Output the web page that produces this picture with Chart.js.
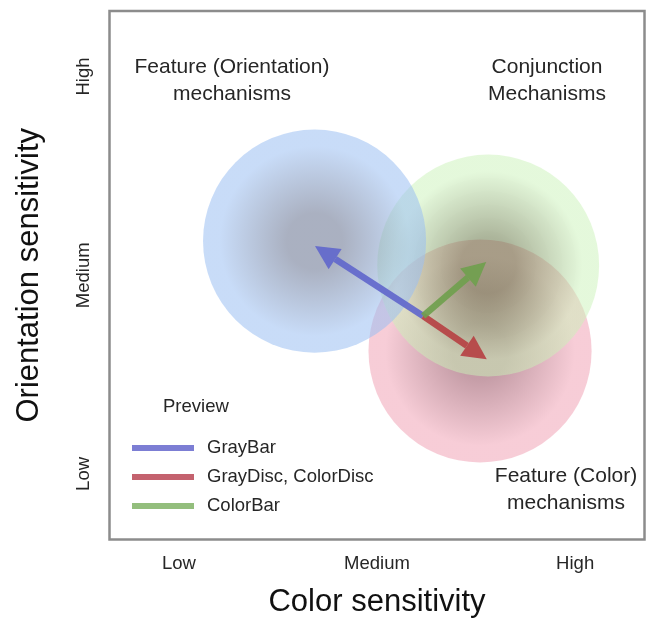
<!DOCTYPE html>
<html>
<head>
<meta charset="utf-8">
<script src="https://cdn.jsdelivr.net/npm/chart.js@4.4.0/dist/chart.umd.min.js"></script>
<style>
  html, body { margin: 0; padding: 0; background: #fff; }
</style>
</head>
<body>
<canvas id="mechChart" width="647" height="621"></canvas>
<script>
// sensitivity levels, same on both axes
const levelValues = [1, 2, 3];
const colorLevels = ['Low', 'Medium', 'High'];
const orientLevels = ['Low', 'Medium', 'High'];

// mechanism regions (colour, conjunction, orientation): centre and radius in axis units
const regionX = [2.520, 2.561, 1.685];
const regionY = [1.619, 2.049, 2.172];
const regionR = [0.563, 0.560, 0.563];

// preview shifts, all starting at the same point
const arrowLabels = ['GrayBar', 'GrayDisc, ColorDisc', 'ColorBar'];
const arrowStartX = 2.233;
const arrowStartY = 1.795;
const arrowEndX = [1.687, 2.554, 2.551];
const arrowEndY = [2.147, 1.577, 2.067];

// region captions (block centre in axis units)
const captionText = [
    ['Feature (Orientation)', 'mechanisms'],
    ['Conjunction', 'Mechanisms'],
    ['Feature (Color)', 'mechanisms']
];
const captionX = [1.268, 2.858, 2.954];
const captionY = [2.977, 2.977, 0.922];

// styles
const FONT = "'Liberation Sans', Arial, Helvetica, sans-serif";
const TEXT = '#262626';
const regionInner = ['rgba(140,60,80,0.5)', 'rgba(95,112,62,0.52)', 'rgba(100,112,142,0.55)'];
const regionOuter = ['rgba(239,155,175,0.5)', 'rgba(202,242,184,0.5)', 'rgba(155,191,242,0.55)'];
const arrowColors = ['rgba(98,104,204,0.92)', 'rgba(182,66,68,0.92)', 'rgba(112,160,78,0.92)'];
const legendColors = ['#7c7ed4', '#c4626e', '#93be7d'];

Chart.defaults.font.family = FONT;
Chart.defaults.color = TEXT;

function radiusPx(c) {
    const xs = c.chart.scales.x;
    if (!xs || !c.raw || c.dataIndex === undefined) return 0;
    const r = regionR[c.dataIndex];
    const d = xs.getPixelForValue(c.raw.x + r) - xs.getPixelForValue(c.raw.x);
    return Number.isFinite(d) && d > 0 ? d : 0;
}

function regionGradient(c) {
    const i = c.dataIndex;
    if (i === undefined || !c.raw) return regionOuter[0];
    const px = c.chart.scales.x.getPixelForValue(c.raw.x);
    const py = c.chart.scales.y.getPixelForValue(c.raw.y);
    const rp = radiusPx(c);
    if (!Number.isFinite(px) || !Number.isFinite(py) || rp <= 0) return regionOuter[i];
    const g = c.chart.ctx.createRadialGradient(px, py, 0, px, py, rp);
    g.addColorStop(0, regionInner[i]);
    g.addColorStop(0.25, regionInner[i]);
    g.addColorStop(0.85, regionOuter[i]);
    g.addColorStop(1, regionOuter[i]);
    return g;
}

function drawArrow(ctx, x0, y0, x1, y1, color) {
    const ang = Math.atan2(y1 - y0, x1 - x0);
    const headLen = 24, headHalf = 12, shaft = 6.5;
    const cos = Math.cos(ang), sin = Math.sin(ang);
    const bx = x1 - headLen * cos, by = y1 - headLen * sin;
    ctx.strokeStyle = color;
    ctx.fillStyle = color;
    ctx.lineWidth = shaft;
    ctx.lineCap = 'butt';
    ctx.beginPath();
    ctx.moveTo(x0, y0);
    ctx.lineTo(bx, by);
    ctx.stroke();
    ctx.beginPath();
    ctx.moveTo(x1, y1);
    ctx.lineTo(bx + headHalf * sin, by - headHalf * cos);
    ctx.lineTo(bx - headHalf * sin, by + headHalf * cos);
    ctx.closePath();
    ctx.fill();
}

const arrowPlugin = {
    id: 'arrows',
    afterDatasetsDraw(chart) {
        const ctx = chart.ctx;
        ctx.save();
        chart.data.datasets.forEach((d, i) => {
            if (!d.arrow) return;
            const pts = chart.getDatasetMeta(i).data;
            drawArrow(ctx, pts[0].x, pts[0].y, pts[1].x, pts[1].y, d.arrowColor);
        });
        ctx.restore();
    }
};

const captionPlugin = {
    id: 'captions',
    afterDatasetsDraw(chart) {
        const { ctx, scales } = chart;
        const lh = 27;
        ctx.save();
        ctx.font = '21px ' + FONT;
        ctx.fillStyle = TEXT;
        ctx.textAlign = 'center';
        ctx.textBaseline = 'middle';
        captionText.forEach((lines, i) => {
            const cx = scales.x.getPixelForValue(captionX[i]);
            const cy = scales.y.getPixelForValue(captionY[i]);
            const y0 = cy - (lines.length - 1) * lh / 2;
            lines.forEach((t, k) => ctx.fillText(t, cx, y0 + k * lh));
        });
        ctx.restore();
    }
};

// the "Preview" key in the lower left corner of the plot
const previewLegend = {
    id: 'previewLegend',
    afterDraw(chart) {
        const { ctx, chartArea } = chart;
        const left = chartArea.left + 22.5;
        const firstY = chartArea.bottom - 91.5;
        ctx.save();
        ctx.font = '18.5px ' + FONT;
        ctx.fillStyle = TEXT;
        ctx.textBaseline = 'middle';
        ctx.fillText('Preview', left + 31, firstY - 41);
        chart.data.datasets.filter(d => d.arrow).forEach((d, i) => {
            const y = firstY + i * 29;
            ctx.fillStyle = d.legendColor;
            ctx.fillRect(left, y - 3, 62, 6);
            ctx.fillStyle = TEXT;
            ctx.fillText(d.label, left + 75, y);
        });
        ctx.restore();
    }
};

const framePlugin = {
    id: 'frame',
    afterDraw(chart) {
        const { ctx, chartArea: a } = chart;
        ctx.save();
        ctx.strokeStyle = '#8c8c8c';
        ctx.lineWidth = 2.5;
        ctx.strokeRect(a.left, a.top, a.right - a.left, a.bottom - a.top);
        ctx.restore();
    }
};

const datasets = [{
    label: 'regions',
    data: regionX.map((x, i) => ({ x: x, y: regionY[i] })),
    pointRadius: radiusPx,
    pointHoverRadius: radiusPx,
    pointBackgroundColor: regionGradient,
    pointBorderWidth: 0,
    pointHoverBorderWidth: 0
}].concat(arrowLabels.map((label, i) => ({
    label: label,
    arrow: true,
    arrowColor: arrowColors[i],
    legendColor: legendColors[i],
    data: [{ x: arrowStartX, y: arrowStartY }, { x: arrowEndX[i], y: arrowEndY[i] }],
    showLine: false,
    pointRadius: 0,
    pointHoverRadius: 0
})));

new Chart(document.getElementById('mechChart'), {
    type: 'scatter',
    data: { datasets: datasets },
    options: {
        responsive: false,
        animation: false,
        events: [],
        layout: { padding: { top: 11, right: 2.5, left: 0, bottom: 0 } },
        plugins: { legend: { display: false }, tooltip: { enabled: false } },
        scales: {
            x: {
                type: 'linear',
                min: 0.65,
                max: 3.35,
                grid: { display: false, drawTicks: false },
                border: { display: false },
                afterBuildTicks: s => { s.ticks = levelValues.map(v => ({ value: v })); },
                afterFit: s => { s.height = 81.5; },
                ticks: {
                    padding: 13,
                    font: { size: 18.5 },
                    color: TEXT,
                    callback: v => colorLevels[levelValues.indexOf(v)]
                },
                title: {
                    display: true,
                    text: 'Color sensitivity',
                    font: { size: 31 },
                    color: '#111',
                    padding: { top: 0, bottom: 0 }
                }
            },
            y: {
                type: 'linear',
                min: 0.67,
                max: 3.33,
                grid: { display: false, drawTicks: false },
                border: { display: false },
                afterBuildTicks: s => { s.ticks = levelValues.map(v => ({ value: v })); },
                afterFit: s => { s.width = 109.5; },
                ticks: {
                    minRotation: 90,
                    maxRotation: 90,
                    crossAlign: 'center',
                    padding: -7,
                    font: { size: 18.5 },
                    color: TEXT,
                    callback: v => orientLevels[levelValues.indexOf(v)]
                },
                title: {
                    display: true,
                    text: 'Orientation sensitivity',
                    font: { size: 31 },
                    color: '#111',
                    padding: { top: 10.5, bottom: 0 }
                }
            }
        }
    },
    plugins: [captionPlugin, arrowPlugin, previewLegend, framePlugin]
});
</script>
</body>
</html>
